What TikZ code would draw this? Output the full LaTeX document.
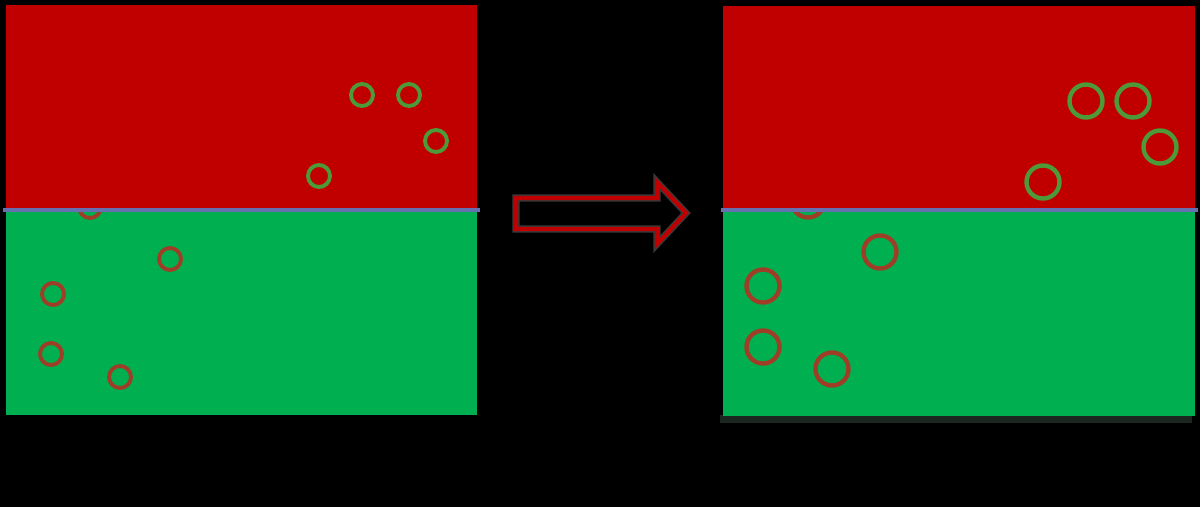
\documentclass[tikz,border=0pt]{standalone}
\usepackage{tikz}
\usetikzlibrary{arrows.meta}

\definecolor{zonered}{HTML}{C00000}
\definecolor{zonegreen}{HTML}{00B050}
\definecolor{ringgreen}{HTML}{4C9A38}
\definecolor{ringred}{HTML}{9E3E26}
\definecolor{borderblue}{HTML}{6670B0}
\definecolor{shadowgray}{HTML}{1C2620}

\begin{document}
\begin{tikzpicture}[x=0.02cm,y=-0.02cm,
    smallring/.style={line width=2.2pt},
    bigring/.style={line width=2.5pt},
    border/.style={borderblue,line width=1.8pt},
    blockarrow/.style={zonered,line width=2.3pt,line join=miter}
    ]
    \fill[black] (0,0) rectangle (1200,507);
    % left picture
    \fill[zonegreen] (6,210) rectangle (477,415);
    \foreach \x/\y in {90/207,170/259,53/294,51/354,120/377}
        \draw[smallring,ringred] (\x,\y) circle (11);
    \fill[zonered] (6,5) rectangle (477,210);
    \foreach \x/\y in {362/95,409/95,436/141,319/176}
        \draw[smallring,ringgreen] (\x,\y) circle (11);
    \coordinate (lb) at (3,210);
    \coordinate (le) at (480,210);
    \draw[border] (lb) -- (le);
    % arrow
    \coordinate (tip) at (686,213);
    \draw[gray!45!black,line width=4pt,line join=miter] (516,198) -- (657,198) -- (657,182) -- (tip)
        -- (657,244) -- (657,229) -- (516,229) -- cycle;
    \draw[blockarrow] (516,198) -- (657,198) -- (657,182) -- (tip)
        -- (657,244) -- (657,229) -- (516,229) -- cycle;
    % right picture
    \fill[shadowgray] (720,415) rectangle (1192,423);
    \fill[zonegreen] (723,210) rectangle (1195,416);
    \foreach \x/\y in {808/201,880/252,763/286,763/347,832/369}
        \draw[bigring,ringred] (\x,\y) circle (16.5);
    \fill[zonered] (723,6) rectangle (1195,210);
    \foreach \x/\y in {1086/101,1133/101,1160/147,1043/182}
        \draw[bigring,ringgreen] (\x,\y) circle (16.5);
    \coordinate (rb) at (721,210);
    \coordinate (re) at (1198,210);
    \draw[border] (rb) -- (re);
\end{tikzpicture}
\end{document}
